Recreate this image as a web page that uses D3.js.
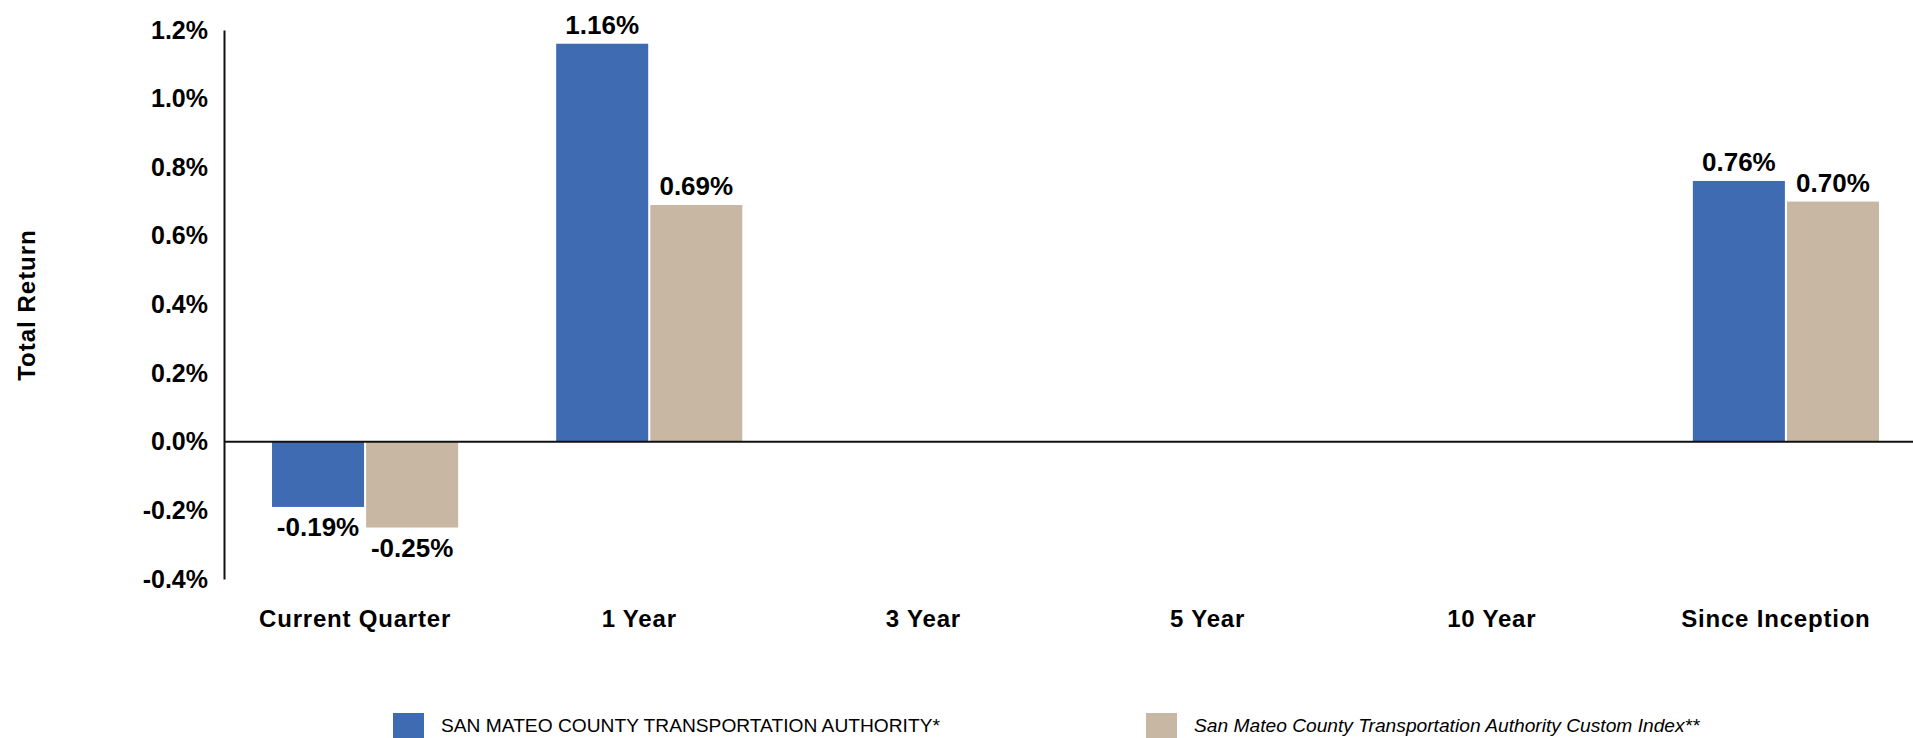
<!DOCTYPE html>
<html>
<head>
<meta charset="utf-8">
<script src="https://cdn.jsdelivr.net/npm/d3@7"></script>
<style>
  html, body { margin: 0; padding: 0; background: #fff; }
  svg { display: block; font-family: "Liberation Sans", Arial, Helvetica, sans-serif; }
</style>
</head>
<body>
<svg id="chart" width="1913" height="738"></svg>
<script>
// Periods along the x axis
const categories = ["Current Quarter", "1 Year", "3 Year", "5 Year", "10 Year", "Since Inception"];
// Series names (legend)
const seriesNames = [
  "SAN MATEO COUNTY TRANSPORTATION AUTHORITY*",
  "San Mateo County Transportation Authority Custom Index**"
];
// Total return (%) per period; null where no history exists
const authorityReturns = [-0.19, 1.16, null, null, null, 0.76];
const customIndexReturns = [-0.25, 0.69, null, null, null, 0.70];
// Y axis ticks (%)
const yTicks = [-0.4, -0.2, 0.0, 0.2, 0.4, 0.6, 0.8, 1.0, 1.2];

const colors = ["#3F6BB3", "#C8B8A3"];
const seriesValues = [authorityReturns, customIndexReturns];

const svg = d3.select("#chart");
const W = 1913;

const x0 = d3.scaleBand()
  .domain(categories)
  .range([223, 1928])
  .paddingInner(0.345)
  .paddingOuter(0.1725);

const x1 = d3.scaleBand()
  .domain(seriesNames)
  .range([0, x0.bandwidth()])
  .paddingInner(0.022);

const y = d3.scaleLinear().domain([-0.4, 1.2]).range([579, 30]);

// Y axis
const yAxis = d3.axisLeft(y)
  .tickValues(yTicks)
  .tickSize(0)
  .tickPadding(16)
  .tickFormat(d => d.toFixed(1) + "%");

const gy = svg.append("g").attr("transform", "translate(224,0)").call(yAxis);
gy.select(".domain").attr("stroke", "#111").attr("stroke-width", 2);
gy.selectAll(".tick text")
  .attr("font-size", 25)
  .attr("font-weight", "bold")
  .attr("fill", "#000")
  .attr("font-family", "Liberation Sans, Arial, sans-serif");

// Y axis title
svg.append("text")
  .attr("transform", "translate(27,305) rotate(-90)")
  .attr("text-anchor", "middle")
  .attr("dy", "0.35em")
  .attr("font-size", 24)
  .attr("font-weight", "bold")
  .attr("letter-spacing", 1)
  .text("Total Return");

// Bars
const rows = categories.map((c, i) => ({
  category: c,
  values: seriesNames.map((s, j) => ({ series: s, idx: j, value: seriesValues[j][i] }))
}));

const groups = svg.append("g").selectAll("g")
  .data(rows)
  .join("g")
  .attr("transform", d => `translate(${x0(d.category)},0)`);

groups.selectAll("rect")
  .data(d => d.values.filter(v => v.value !== null))
  .join("rect")
  .attr("x", d => x1(d.series))
  .attr("width", x1.bandwidth())
  .attr("y", d => y(Math.max(0, d.value)))
  .attr("height", d => Math.abs(y(d.value) - y(0)))
  .attr("fill", d => colors[d.idx]);

// Value labels
groups.selectAll("text.val")
  .data(d => d.values.filter(v => v.value !== null))
  .join("text")
  .attr("class", "val")
  .attr("x", d => x1(d.series) + x1.bandwidth() / 2)
  .attr("y", d => d.value >= 0 ? y(d.value) - 10 : y(d.value) + 29)
  .attr("text-anchor", "middle")
  .attr("font-size", 26)
  .attr("font-weight", "bold")
  .attr("fill", "#000")
  .text(d => d.value.toFixed(2) + "%");

// Zero baseline
svg.append("line")
  .attr("x1", 224).attr("x2", W)
  .attr("y1", y(0)).attr("y2", y(0))
  .attr("stroke", "#111").attr("stroke-width", 2);

// Category labels
svg.append("g").selectAll("text")
  .data(categories)
  .join("text")
  .attr("x", d => x0(d) + x0.bandwidth() / 2 - 10)
  .attr("y", 627)
  .attr("text-anchor", "middle")
  .attr("font-size", 24)
  .attr("font-weight", "bold")
  .attr("letter-spacing", 0.8)
  .attr("fill", "#000")
  .text(d => d);

// Legend
const legendX = [393, 1146];
const legend = svg.append("g").selectAll("g")
  .data(seriesNames)
  .join("g")
  .attr("transform", (d, i) => `translate(${legendX[i]},713)`);

legend.append("rect")
  .attr("width", 31).attr("height", 31)
  .attr("fill", (d, i) => colors[i]);

legend.append("text")
  .attr("x", 48)
  .attr("y", 19)
  .attr("font-size", 19.2)
  .attr("font-style", (d, i) => i === 1 ? "italic" : "normal")
  .attr("fill", "#000")
  .text(d => d);
</script>
</body>
</html>
